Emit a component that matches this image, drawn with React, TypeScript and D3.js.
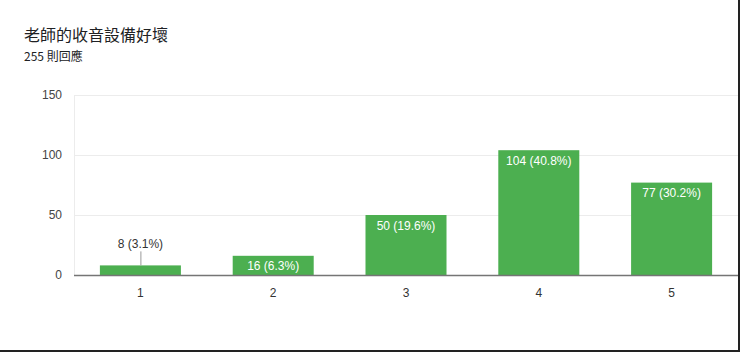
import * as d3 from "d3";
import { useEffect, useRef } from "react";

const categories = ["1", "2", "3", "4", "5"];
const counts = [8, 16, 50, 104, 77];
const percents = ["3.1%", "6.3%", "19.6%", "40.8%", "30.2%"];
const yTicks = [0, 50, 100, 150];

export default function App() {
  const ref = useRef<SVGSVGElement | null>(null);

  useEffect(() => {
    const svg = d3.select(ref.current);
    svg.selectAll("*").remove();

    const width = 740;
    const height = 352;
    const font = "'Liberation Sans', Arial, sans-serif";

    svg.append("rect").attr("width", width).attr("height", height).attr("fill", "#fff");

    svg
      .append("text")
      .attr("x", 24)
      .attr("y", 41)
      .attr("font-family", "'Noto Sans CJK TC', sans-serif")
      .attr("font-size", 16)
      .attr("fill", "#202124")
      .text("老師的收音設備好壞");

    svg
      .append("text")
      .attr("x", 24)
      .attr("y", 61)
      .attr("font-family", "'Noto Sans CJK TC', sans-serif")
      .attr("font-size", 12)
      .attr("fill", "#202124")
      .text("255 則回應");

    const x = d3.scaleBand().domain(categories).range([74, 738]).paddingInner(0.39).paddingOuter(0.195);
    const y = d3.scaleLinear().domain([0, 150]).range([275, 95]);

    // grid
    svg
      .append("g")
      .selectAll("line")
      .data(yTicks.filter((t) => t > 0))
      .enter()
      .append("line")
      .attr("x1", 74)
      .attr("x2", 738)
      .attr("y1", (d) => y(d) + 0.5)
      .attr("y2", (d) => y(d) + 0.5)
      .attr("stroke", "#ececec");
    svg
      .append("line")
      .attr("x1", 74.5)
      .attr("x2", 74.5)
      .attr("y1", y(150))
      .attr("y2", y(0))
      .attr("stroke", "#ececec");

    svg
      .append("g")
      .selectAll("text")
      .data(yTicks)
      .enter()
      .append("text")
      .attr("x", 62)
      .attr("y", (d) => y(d) + 4)
      .attr("text-anchor", "end")
      .attr("font-family", font)
      .attr("font-size", 12)
      .attr("fill", "#444")
      .text((d) => d);

    const data = categories.map((c, i) => ({ c, v: counts[i], p: percents[i] }));

    svg
      .append("g")
      .selectAll("rect")
      .data(data)
      .enter()
      .append("rect")
      .attr("x", (d) => x(d.c) as number)
      .attr("y", (d) => y(d.v))
      .attr("width", x.bandwidth())
      .attr("height", (d) => y(0) - y(d.v))
      .attr("fill", "#4caf50");

    // baseline
    svg
      .append("line")
      .attr("x1", 74)
      .attr("x2", 738)
      .attr("y1", y(0) + 0.5)
      .attr("y2", y(0) + 0.5)
      .attr("stroke", "#757575")
      .attr("stroke-width", 1.5);

    // labels
    data.forEach((d) => {
      const cx = (x(d.c) as number) + x.bandwidth() / 2;
      const h = y(0) - y(d.v);
      const label = `${d.v} (${d.p})`;
      if (h > 15) {
        svg
          .append("text")
          .attr("x", cx)
          .attr("y", y(d.v) + 14.5)
          .attr("text-anchor", "middle")
          .attr("font-family", font)
          .attr("font-size", 12)
          .attr("fill", "#fff")
          .text(label);
      } else {
        svg
          .append("line")
          .attr("x1", cx + 0.5)
          .attr("x2", cx + 0.5)
          .attr("y1", y(d.v) - 14)
          .attr("y2", y(d.v))
          .attr("stroke", "#999");
        svg
          .append("text")
          .attr("x", cx)
          .attr("y", y(d.v) - 17)
          .attr("text-anchor", "middle")
          .attr("font-family", font)
          .attr("font-size", 12)
          .attr("fill", "#333")
          .text(label);
      }
    });

    svg
      .append("g")
      .selectAll("text")
      .data(categories)
      .enter()
      .append("text")
      .attr("x", (d) => (x(d) as number) + x.bandwidth() / 2)
      .attr("y", 297)
      .attr("text-anchor", "middle")
      .attr("font-family", font)
      .attr("font-size", 12)
      .attr("fill", "#333")
      .text((d) => d);

    // frame edges from the screenshot
    svg.append("line").attr("x1", 739).attr("x2", 739).attr("y1", 0).attr("y2", height).attr("stroke", "#222").attr("stroke-width", 2);
    svg.append("line").attr("x1", 0).attr("x2", width).attr("y1", 351).attr("y2", 351).attr("stroke", "#222").attr("stroke-width", 2);
  }, []);

  return (
    <svg
      ref={ref}
      width={740}
      height={352}
      style={{ position: "absolute", left: 0, top: 0, display: "block" }}
    />
  );
}
